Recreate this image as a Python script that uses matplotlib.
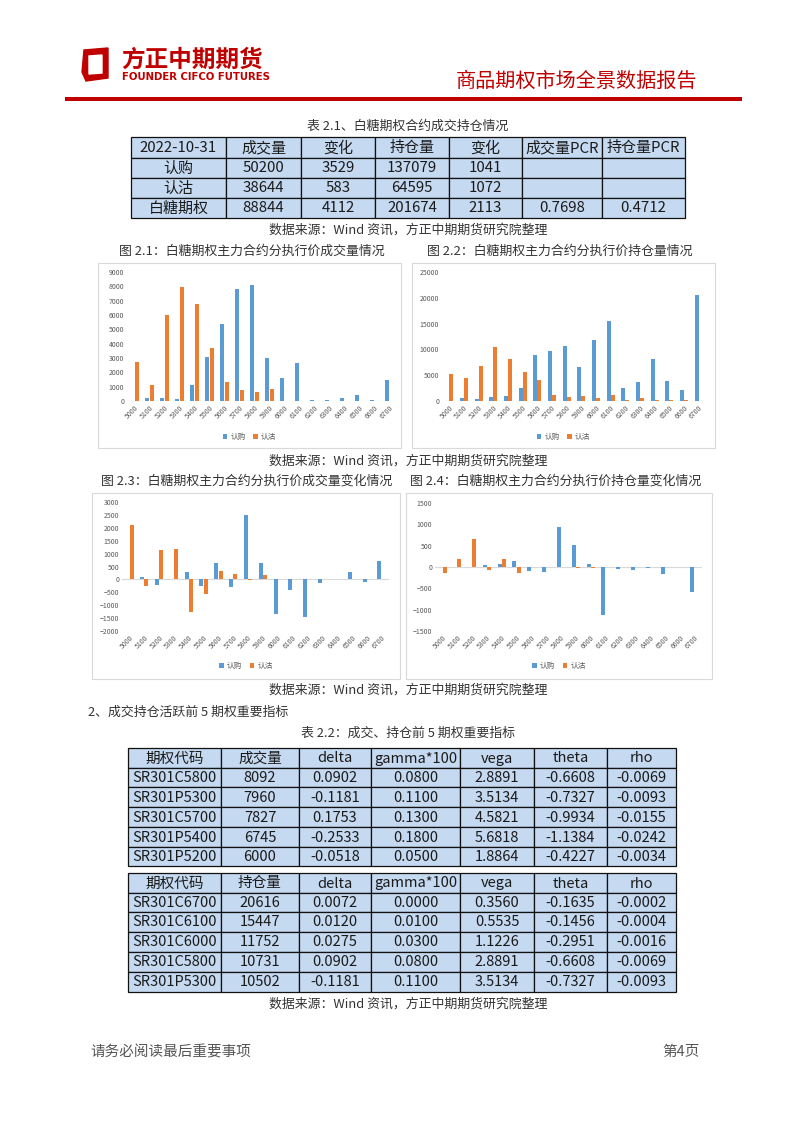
import matplotlib
matplotlib.use('Agg')
import matplotlib.pyplot as plt
from matplotlib.patches import Rectangle, Polygon
import numpy as np

plt.rcParams['font.family'] = ['Noto Sans CJK SC', 'DejaVu Sans']

W, H = 802, 1133

# ---- data -------------------------------------------------------------
strikes = ['5000', '5100', '5200', '5300', '5400', '5500', '5600', '5700', '5800',
           '5900', '6000', '6100', '6200', '6300', '6400', '6500', '6600', '6700']

# fig 2.1 volume by strike
vol_call = [0, 200, 230, 150, 1100, 3100, 5400, 7827, 8092, 3000, 1600, 2650,
            100, 100, 180, 400, 80, 1450]
vol_put = [2700, 1150, 6000, 7960, 6745, 3700, 1350, 800, 600, 850, 0, 0,
           0, 0, 0, 0, 0, 0]
# fig 2.2 open interest by strike
oi_call = [0, 500, 350, 700, 900, 2600, 8900, 9700, 10731, 6500, 11752, 15447,
           2500, 3700, 8200, 3800, 2200, 20616]
oi_put = [5200, 4500, 6800, 10502, 8100, 5700, 4000, 1200, 700, 1000, 500, 1100,
          200, 500, 200, 200, 100, 0]
# fig 2.3 volume change
dvol_call = [0, 80, -220, 0, 270, -270, 620, -300, 2480, 650, -1330, -400,
             -1450, -130, 0, 290, -120, 730]
dvol_put = [2100, -250, 1150, 1170, -1250, -570, 320, 200, -20, 160, 30, 0,
            0, 0, 0, 0, 0, 0]
# fig 2.4 open interest change
doi_call = [0, -10, 0, 40, 70, 140, -100, -110, 940, 520, 80, -1120,
            -40, -60, -20, -170, 10, -580]
doi_put = [-130, 190, 660, -60, 190, -130, 0, 0, 0, -30, -30, 0,
           0, 0, 0, 0, 0, 0]

t1_header = ['2022-10-31', '成交量', '变化', '持仓量', '变化', '成交量PCR', '持仓量PCR']
t1_rows = [['认购', '50200', '3529', '137079', '1041', '', ''],
           ['认沽', '38644', '583', '64595', '1072', '', ''],
           ['白糖期权', '88844', '4112', '201674', '2113', '0.7698', '0.4712']]

t2_header = ['期权代码', '成交量', 'delta', 'gamma*100', 'vega', 'theta', 'rho']
t2_rows = [['SR301C5800', '8092', '0.0902', '0.0800', '2.8891', '-0.6608', '-0.0069'],
           ['SR301P5300', '7960', '-0.1181', '0.1100', '3.5134', '-0.7327', '-0.0093'],
           ['SR301C5700', '7827', '0.1753', '0.1300', '4.5821', '-0.9934', '-0.0155'],
           ['SR301P5400', '6745', '-0.2533', '0.1800', '5.6818', '-1.1384', '-0.0242'],
           ['SR301P5200', '6000', '-0.0518', '0.0500', '1.8864', '-0.4227', '-0.0034']]

t3_header = ['期权代码', '持仓量', 'delta', 'gamma*100', 'vega', 'theta', 'rho']
t3_rows = [['SR301C6700', '20616', '0.0072', '0.0000', '0.3560', '-0.1635', '-0.0002'],
           ['SR301C6100', '15447', '0.0120', '0.0100', '0.5535', '-0.1456', '-0.0004'],
           ['SR301C6000', '11752', '0.0275', '0.0300', '1.1226', '-0.2951', '-0.0016'],
           ['SR301C5800', '10731', '0.0902', '0.0800', '2.8891', '-0.6608', '-0.0069'],
           ['SR301P5300', '10502', '-0.1181', '0.1100', '3.5134', '-0.7327', '-0.0093']]

BLUE = '#5B9BD5'
ORANGE = '#ED7D31'
RED = '#C00000'
TXT = '#333333'
CELL = '#C5D9F1'

fig = plt.figure(figsize=(W / 100, H / 100), dpi=100)

# full-page overlay in pixel coordinates
page = fig.add_axes([0, 0, 1, 1])
page.set_xlim(0, W)
page.set_ylim(H, 0)
page.axis('off')


def rect(x0, y0, x1, y1):
    return [x0 / W, 1 - y1 / H, (x1 - x0) / W, (y1 - y0) / H]


# ---- header -----------------------------------------------------------
page.add_patch(Polygon([(84, 50), (108, 48), (108, 78), (86, 81), (82, 72)],
                       closed=True, color=RED))
page.add_patch(Polygon([(89, 56), (102, 55), (102, 73), (89, 74)],
                       closed=True, color='white'))
page.text(121, 60, '方正中期期货', fontsize=17, fontweight='bold', color=RED,
          va='center', ha='left')
page.text(122, 77.5, 'FOUNDER CIFCO FUTURES', fontsize=7.3, fontweight='bold',
          color=RED, va='center', ha='left', family='DejaVu Sans')
page.text(697, 81, '商品期权市场全景数据报告', fontsize=14.5, color=RED,
          va='center', ha='right')
page.add_patch(Rectangle((65, 97), 677, 4, color=RED, lw=0))


def draw_table(xs, ys, rows, fs):
    for r, row in enumerate(rows):
        for c, val in enumerate(row):
            page.add_patch(Rectangle((xs[c], ys[r]), xs[c + 1] - xs[c],
                                     ys[r + 1] - ys[r], facecolor=CELL,
                                     edgecolor='#111111', lw=0.9))
            page.text((xs[c] + xs[c + 1]) / 2, (ys[r] + ys[r + 1]) / 2 + 0.5, val,
                      fontsize=fs, color='#1a1a1a', ha='center', va='center')


def caption(x, y, s, ha='center', fs=9.3):
    page.text(x, y, s, fontsize=fs, color=TXT, ha=ha, va='center')


src = '数据来源：Wind 资讯，方正中期期货研究院整理'

caption(408, 126, '表 2.1、白糖期权合约成交持仓情况')
draw_table([131, 226, 301, 375, 449, 522, 602, 685],
           [137, 158, 178, 198, 218], [t1_header] + t1_rows, 10.8)
caption(408, 230, src)
caption(252, 251, '图 2.1：白糖期权主力合约分执行价成交量情况')
caption(560, 251, '图 2.2：白糖期权主力合约分执行价持仓量情况')
caption(408, 461, src)
caption(247, 481, '图 2.3：白糖期权主力合约分执行价成交量变化情况')
caption(556, 481, '图 2.4：白糖期权主力合约分执行价持仓量变化情况')
caption(408, 690, src)
caption(88, 712, '2、成交持仓活跃前 5 期权重要指标', ha='left')
caption(408, 733, '表 2.2：成交、持仓前 5 期权重要指标')

t_xs = [128, 221, 299, 371, 460, 534, 607, 676]
draw_table(t_xs, [748, 768, 787, 807, 827, 847, 866], [t2_header] + t2_rows, 10.5)
draw_table(t_xs, [873, 893, 912, 932, 952, 972, 992], [t3_header] + t3_rows, 10.5)
caption(408, 1004, src)

page.text(90, 1052, '请务必阅读最后重要事项', fontsize=10.5, color='#555555',
          ha='left', va='center')
page.text(700, 1052, '第4页', fontsize=10.5, color='#555555', ha='right',
          va='center')


# ---- charts -----------------------------------------------------------
def bar_chart(box, plot, call, put, ylim, step, legend_y):
    page.add_patch(Rectangle((box[0], box[1]), box[2] - box[0],
                             box[3] - box[1], facecolor='white',
                             edgecolor='#d9d9d9', lw=0.8))
    ax = fig.add_axes(rect(*plot))
    x = np.arange(len(strikes))
    w = 0.27
    b1 = ax.bar(x - w / 2 - 0.01, call, width=w, color=BLUE, label='认购')
    b2 = ax.bar(x + w / 2 + 0.01, put, width=w, color=ORANGE, label='认沽')
    ax.axhline(0, color='#d9d9d9', lw=0.8, zorder=0)
    ax.set_xlim(-0.5, len(strikes) - 0.5)
    ax.set_ylim(*ylim)
    ax.set_yticks(np.arange(ylim[0], ylim[1] + 1, step))
    ax.set_xticks(x)
    ax.set_xticklabels(strikes, rotation=45, ha='right', rotation_mode='anchor')
    ax.tick_params(length=0, labelsize=5, colors='#595959', pad=2)
    for s in ax.spines.values():
        s.set_visible(False)
    ax.patch.set_alpha(0)
    cx = (box[0] + box[2]) / 2
    fig.legend(handles=[b1, b2], loc='center', ncol=2,
               bbox_to_anchor=(cx / W, 1 - legend_y / H), frameon=False,
               fontsize=5.5, handlelength=0.6, handleheight=0.6,
               columnspacing=1.0, handletextpad=0.4, labelcolor='#595959')
    return ax


bar_chart((98, 263, 401, 448), (127, 272, 397, 401), vol_call, vol_put,
          (0, 9000), 1000, 437)
bar_chart((412, 263, 715, 448), (442, 272, 706, 401), oi_call, oi_put,
          (0, 25000), 5000, 437)
bar_chart((92, 493, 400, 679), (122, 502, 389, 631), dvol_call, dvol_put,
          (-2000, 3000), 500, 666)
bar_chart((406, 493, 712, 679), (435, 503, 702, 631), doi_call, doi_put,
          (-1500, 1500), 500, 666)

fig.savefig('out.png', dpi=100)
